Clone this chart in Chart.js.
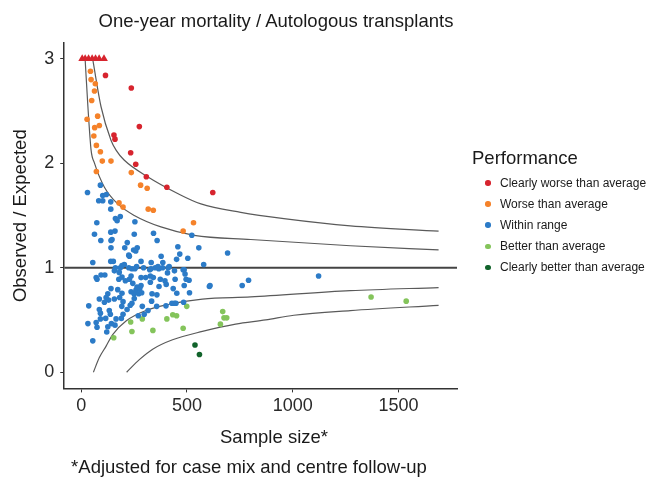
<!DOCTYPE html>
<html lang="en">
<head>
<meta charset="UTF-8">
<title>One-year mortality / Autologous transplants</title>
<script src="https://cdn.jsdelivr.net/npm/chart.js"></script>
<style>
    body {
        margin: 0;
        background: #fff;
        font-family: "Liberation Sans", Arial, sans-serif;
    }
    #wrap {
        position: relative;
        width: 653px;
        height: 477px;
    }
    canvas {
        position: absolute;
        left: 0;
        top: 0;
    }
    .txt {
        position: absolute;
        white-space: nowrap;
        color: #1a1a1a;
        font-size: 18.5px;
        line-height: 1;
        transform: translate(-50%, -50%);
    }
    #legend {
        position: absolute;
        left: 472px;
        top: 147px;
        color: #1a1a1a;
    }
    #legend .ttl {
        font-size: 18.5px;
        line-height: 22px;
        margin-bottom: 3.5px;
    }
    #legend .item {
        display: flex;
        align-items: center;
        height: 21.1px;
        font-size: 12px;
    }
    #legend .dot {
        width: 5.5px;
        height: 5.5px;
        border-radius: 50%;
        margin-left: 13.3px;
        margin-right: 9.2px;
    }
</style>
</head>
<body>
<div id="wrap">
    <canvas id="funnel" width="653" height="477"></canvas>
    <div class="txt" style="left:276px; top:21px;">One-year mortality / Autologous transplants</div>
    <div class="txt" style="left:274px; top:437px;">Sample size*</div>
    <div class="txt" style="left:249px; top:467px;">*Adjusted for case mix and centre follow-up</div>
    <div id="legend"><div class="ttl">Performance</div></div>
</div>

<script>
    // axis ranges and ticks
    const xMin = -80, xMax = 1776;
    const yMin = -0.155, yMax = 3.15;
    const xTicks = [0, 500, 1000, 1500];
    const yTicks = [0, 1, 2, 3];

    // category labels and colours
    const categories = ['Clearly worse than average', 'Worse than average', 'Within range',
                        'Better than average', 'Clearly better than average'];
    const catColors = ['#d7242e', '#f5822a', '#2c7bc7', '#84c45b', '#11632b'];

    // centres plotted above 3 (drawn as triangles at the top)
    const cappedX = [5, 19, 35, 52, 68, 85, 108];

    // [sample size, observed/expected]
    const clearlyWorse = [[115,2.84],[237,2.72],[275,2.35],[155,2.27],[160,2.23],[234,2.10],
        [258,1.99],[308,1.87],[405,1.77],[622,1.72]];

    const worse = [[44,2.88],[47,2.80],[67,2.76],[63,2.69],[50,2.60],[28,2.42],[78,2.45],[86,2.36],
        [64,2.34],[60,2.26],[72,2.17],[91,2.11],[100,2.02],[141,2.02],[72,1.92],[237,1.91],[281,1.79],
        [312,1.76],[179,1.62],[198,1.58],[317,1.56],[341,1.55],[531,1.43],[482,1.35]];

    const withinRange = [[30,1.72],[91,1.79],[102,1.69],[119,1.70],[83,1.64],[102,1.64],[140,1.63],
        [140,1.56],[185,1.49],[162,1.47],[170,1.45],[74,1.43],[254,1.44],[523,1.31],[140,1.34],
        [160,1.35],[63,1.32],[251,1.32],[342,1.33],[93,1.26],[141,1.26],[146,1.27],[359,1.26],
        [218,1.24],[141,1.19],[206,1.19],[265,1.19],[248,1.17],[258,1.16],[457,1.20],[556,1.19],
        [225,1.12],[228,1.11],[378,1.11],[451,1.08],[466,1.13],[504,1.09],[692,1.14],[55,1.05],
        [140,1.06],[152,1.06],[283,1.06],[331,1.05],[386,1.05],[579,1.03],[193,1.02],[204,1.03],
        [185,1.00],[225,1.00],[254,0.99],[162,1.00],[330,0.99],[350,1.00],[367,0.99],[411,1.00],
        [487,0.98],[240,0.99],[262,1.01],[295,1.00],[324,0.98],[363,1.01],[385,1.00],[416,1.01],
        [408,0.95],[441,0.97],[482,0.98],[491,0.94],[94,0.93],[112,0.93],[75,0.89],[157,0.97],
        [180,0.955],[178,0.89],[209,0.875],[193,0.91],[236,0.92],[228,0.89],[244,0.85],[283,0.905],
        [305,0.905],[327,0.92],[341,0.905],[374,0.89],[396,0.875],[444,0.89],[496,0.89],[510,0.88],
        [487,0.83],[368,0.82],[402,0.84],[435,0.80],[452,0.755],[512,0.76],[141,0.80],[173,0.79],
        [193,0.755],[126,0.75],[118,0.715],[130,0.69],[157,0.70],[182,0.715],[198,0.675],[236,0.77],
        [250,0.75],[259,0.785],[264,0.815],[277,0.80],[272,0.75],[286,0.76],[251,0.705],[240,0.66],
        [232,0.64],[192,0.63],[217,0.60],[289,0.63],[316,0.59],[333,0.68],[335,0.75],[358,0.74],
        [357,0.63],[429,0.66],[441,0.66],[448,0.66],[484,0.67],[36,0.635],[32,0.465],[71,0.475],
        [75,0.43],[126,0.435],[121,0.385],[160,0.45],[55,0.30],[86,0.60],[91,0.565],[133,0.59],
        [138,0.555],[91,0.51],[116,0.515],[165,0.51],[190,0.515],[143,0.465],[270,0.54],[198,0.555],
        [606,0.82],[609,0.83],[761,0.83],[791,0.88],[1122,0.92],[86,0.70],[110,0.67],[327,0.86],
        [283,0.83],[401,0.635],[298,0.555],[71,0.905]];

    const better = [[234,0.48],[289,0.51],[240,0.39],[339,0.40],[154,0.33],[405,0.51],[433,0.55],
        [451,0.54],[499,0.63],[482,0.42],[669,0.58],[675,0.52],[688,0.52],[658,0.46],[1370,0.72],
        [1536,0.68]];

    const clearlyBetter = [[538,0.26],[559,0.17]];

    // control limits
    const upperOuter = [[55,2.99],[94,2.54],[141,2.22],[165,2.125],[203,2.03],[314,1.87],[456,1.71],
        [566,1.61],[754,1.53],[958,1.47],[1272,1.40],[1689,1.35]];
    const upperInner = [[19,2.99],[32,2.54],[47,2.125],[63,2.00],[110,1.77],[173,1.61],[251,1.50],
        [377,1.39],[534,1.31],[801,1.27],[1272,1.21],[1689,1.17]];
    const lowerInner = [[58,0],[86,0.14],[118,0.25],[149,0.36],[212,0.49],[306,0.59],[416,0.65],
        [573,0.70],[801,0.72],[1272,0.78],[1689,0.81]];
    const lowerOuter = [[215,0],[275,0.12],[338,0.22],[432,0.31],[573,0.39],[730,0.46],[872,0.50],
        [1005,0.545],[1272,0.59],[1689,0.64]];

    const toPts = arr => arr.map(p => ({x: p[0], y: p[1]}));
    const FONT = '"Liberation Sans", Arial, sans-serif';

    function dots(data, color) {
        return {
            type: 'scatter',
            data: toPts(data),
            backgroundColor: color,
            borderWidth: 0,
            pointRadius: 2.8,
            pointHoverRadius: 2.8
        };
    }

    function limit(data) {
        return {
            type: 'line',
            data: toPts(data),
            borderColor: '#5a5a5a',
            borderWidth: 1.2,
            pointRadius: 0,
            fill: false,
            cubicInterpolationMode: 'monotone'
        };
    }

    const ctx = document.getElementById('funnel').getContext('2d');
    const funnelChart = new Chart(ctx, {
        type: 'scatter',
        data: {
            datasets: [
                {
                    type: 'scatter',
                    data: cappedX.map(x => ({x: x, y: 3})),
                    backgroundColor: catColors[0],
                    borderWidth: 0,
                    pointStyle: 'triangle',
                    pointRadius: 4.5
                },
                dots(clearlyWorse, catColors[0]),
                dots(worse, catColors[1]),
                dots(withinRange, catColors[2]),
                dots(better, catColors[3]),
                dots(clearlyBetter, catColors[4]),
                {
                    type: 'line',
                    data: [{x: xMin, y: 1}, {x: xMax, y: 1}],
                    borderColor: '#444',
                    borderWidth: 2,
                    pointRadius: 0
                },
                limit(upperOuter),
                limit(upperInner),
                limit(lowerInner),
                limit(lowerOuter)
            ]
        },
        options: {
            responsive: false,
            animation: false,
            layout: {
                padding: {left: 10, right: 196, top: 43, bottom: 57}
            },
            plugins: {
                legend: {display: false},
                tooltip: {enabled: false}
            },
            scales: {
                x: {
                    type: 'linear',
                    min: xMin,
                    max: xMax,
                    afterBuildTicks: s => { s.ticks = xTicks.map(v => ({value: v})); },
                    grid: {drawOnChartArea: false, tickLength: 4, color: '#333'},
                    border: {color: '#333', width: 1.5},
                    ticks: {
                        font: {size: 18, family: FONT},
                        color: '#2a2a2a',
                        padding: 3,
                        maxRotation: 0,
                        autoSkip: false,
                        callback: v => String(v)
                    }
                },
                y: {
                    min: yMin,
                    max: yMax,
                    afterBuildTicks: s => { s.ticks = yTicks.map(v => ({value: v})); },
                    grid: {drawOnChartArea: false, tickLength: 4, color: '#333'},
                    border: {color: '#333', width: 1.5},
                    ticks: {
                        font: {size: 18, family: FONT},
                        color: '#2a2a2a',
                        padding: 6,
                        callback: v => String(v)
                    },
                    title: {
                        display: true,
                        text: 'Observed / Expected',
                        font: {size: 18.5, family: FONT},
                        color: '#1a1a1a',
                        padding: {top: 0, bottom: 6}
                    }
                }
            }
        }
    });

    // legend built from the category list
    const legendBox = document.getElementById('legend');
    categories.forEach((name, i) => {
        const row = document.createElement('div');
        row.className = 'item';
        row.innerHTML = '<span class="dot" style="background:' + catColors[i] + '"></span>' + name;
        legendBox.appendChild(row);
    });
</script>
</body>
</html>
